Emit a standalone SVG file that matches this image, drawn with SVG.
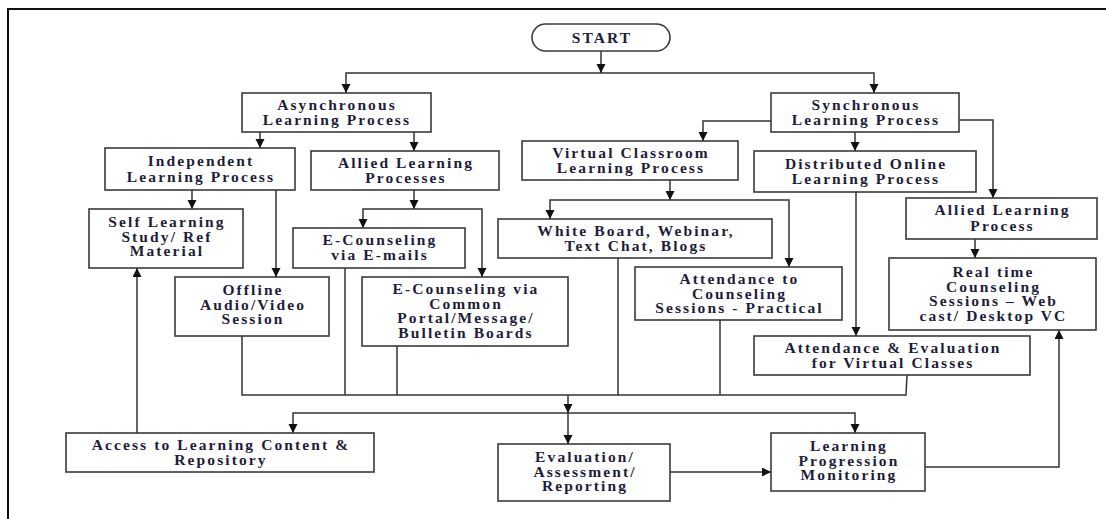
<svg xmlns="http://www.w3.org/2000/svg" width="1106" height="519" viewBox="0 0 1106 519">
  <style>
    .box { fill: #ffffff; stroke: #3a3a3a; stroke-width: 1.6; }
    .lbl { font-family: "Liberation Serif", "Times New Roman", serif; font-size: 15.5px; font-weight: bold; letter-spacing: 2.1px; fill: #1d1d3a; text-anchor: middle; }
    .wire { fill: none; stroke: #333333; stroke-width: 1.5; }
    .arr { marker-end: url(#head); }
  </style>
  <defs>
    <marker id="head" markerUnits="userSpaceOnUse" markerWidth="10" markerHeight="10" refX="9" refY="4.5" orient="auto">
      <path d="M0,0 L9,4.5 L0,9 z" fill="#111111"/>
    </marker>
  </defs>

  <rect width="1106" height="519" fill="#ffffff"/>
  <!-- page frame (left and top edges) -->
  <path d="M8 519 V9 H1106" fill="none" stroke="#111111" stroke-width="2"/>

  <g id="connectors">
    <path class="wire arr" d="M601 51 V73"/>
    <path class="wire arr" d="M601 73 H346 V93"/>
    <path class="wire arr" d="M601 73 H874 V93"/>
    <path class="wire arr" d="M260 132 V148"/>
    <path class="wire arr" d="M414 132 V151"/>
    <path class="wire arr" d="M192 190 V209"/>
    <path class="wire arr" d="M276 190 V277"/>
    <path class="wire arr" d="M414 190 V209"/>
    <path class="wire arr" d="M414 209 H363 V228"/>
    <path class="wire arr" d="M414 209 H482 V277"/>
    <path class="wire arr" d="M771 121 H703 V141"/>
    <path class="wire arr" d="M855 132 V151"/>
    <path class="wire arr" d="M959 120 H993 V198"/>
    <path class="wire arr" d="M975 239 V258"/>
    <path class="wire arr" d="M670 180 V200"/>
    <path class="wire arr" d="M670 200 H550 V219"/>
    <path class="wire arr" d="M670 200 H789 V267"/>
    <path class="wire arr" d="M856 192 V336"/>
    <path class="wire" d="M242 336 V395 H906 L907 375"/>
    <path class="wire" d="M345 268 V395"/>
    <path class="wire" d="M397 346 V395"/>
    <path class="wire" d="M618 258 V395"/>
    <path class="wire" d="M720 320 V395"/>
    <path class="wire arr" d="M568 395 V413"/>
    <path class="wire arr" d="M568 413 H293 V433"/>
    <path class="wire arr" d="M568 413 H855 V433"/>
    <path class="wire arr" d="M568 413 V444"/>
    <path class="wire arr" d="M137 433 V268"/>
    <path class="wire arr" d="M670 472 H771"/>
    <path class="wire arr" d="M925 467 H1059 V330"/>
  </g>

  <g id="start">
    <rect class="box" x="532" y="24" width="138" height="27" rx="13.5"/>
    <text class="lbl" x="602" y="43">START</text>
  </g>
  <g id="async">
    <rect class="box" x="242" y="93" width="189" height="39"/>
    <text class="lbl" x="337" y="109.5">Asynchronous</text>
    <text class="lbl" x="337" y="125">Learning Process</text>
  </g>
  <g id="sync">
    <rect class="box" x="771" y="93" width="188" height="39"/>
    <text class="lbl" x="866" y="109.5">Synchronous</text>
    <text class="lbl" x="866" y="125">Learning Process</text>
  </g>
  <g id="independent">
    <rect class="box" x="105" y="148" width="190" height="42"/>
    <text class="lbl" x="201" y="166">Independent</text>
    <text class="lbl" x="201" y="181.5">Learning Process</text>
  </g>
  <g id="allied-async">
    <rect class="box" x="311" y="151" width="188" height="39"/>
    <text class="lbl" x="406" y="167.5">Allied Learning</text>
    <text class="lbl" x="406" y="183">Processes</text>
  </g>
  <g id="self-learning">
    <rect class="box" x="89" y="209" width="154" height="59"/>
    <text class="lbl" x="167" y="227">Self Learning</text>
    <text class="lbl" x="167" y="241.5">Study/ Ref</text>
    <text class="lbl" x="167" y="256">Material</text>
  </g>
  <g id="offline">
    <rect class="box" x="175" y="277" width="154" height="59"/>
    <text class="lbl" x="253" y="295">Offline</text>
    <text class="lbl" x="253" y="309.5">Audio/Video</text>
    <text class="lbl" x="253" y="324">Session</text>
  </g>
  <g id="ecounsel-email">
    <rect class="box" x="293" y="228" width="172" height="40"/>
    <text class="lbl" x="380" y="245">E-Counseling</text>
    <text class="lbl" x="380" y="260">via E-mails</text>
  </g>
  <g id="ecounsel-portal">
    <rect class="box" x="362" y="277" width="206" height="69"/>
    <text class="lbl" x="466" y="294">E-Counseling via</text>
    <text class="lbl" x="466" y="308.5">Common</text>
    <text class="lbl" x="466" y="323">Portal/Message/</text>
    <text class="lbl" x="466" y="337.5">Bulletin Boards</text>
  </g>
  <g id="virtual-classroom">
    <rect class="box" x="522" y="141" width="216" height="39"/>
    <text class="lbl" x="631" y="157.5">Virtual Classroom</text>
    <text class="lbl" x="631" y="173">Learning Process</text>
  </g>
  <g id="whiteboard">
    <rect class="box" x="498" y="219" width="274" height="39"/>
    <text class="lbl" x="636" y="235.5">White Board, Webinar,</text>
    <text class="lbl" x="636" y="251">Text Chat, Blogs</text>
  </g>
  <g id="attendance-practical">
    <rect class="box" x="635" y="267" width="207" height="53"/>
    <text class="lbl" x="739.5" y="284">Attendance to</text>
    <text class="lbl" x="739.5" y="298.5">Counseling</text>
    <text class="lbl" x="739.5" y="313">Sessions - Practical</text>
  </g>
  <g id="distributed">
    <rect class="box" x="754" y="151" width="222" height="41"/>
    <text class="lbl" x="866" y="168.5">Distributed Online</text>
    <text class="lbl" x="866" y="184">Learning Process</text>
  </g>
  <g id="allied-sync">
    <rect class="box" x="906" y="198" width="191" height="41"/>
    <text class="lbl" x="1002.5" y="215">Allied Learning</text>
    <text class="lbl" x="1002.5" y="230.5">Process</text>
  </g>
  <g id="realtime">
    <rect class="box" x="889" y="258" width="207" height="72"/>
    <text class="lbl" x="993.5" y="277">Real time</text>
    <text class="lbl" x="993.5" y="291.5">Counseling</text>
    <text class="lbl" x="993.5" y="306">Sessions – Web</text>
    <text class="lbl" x="993.5" y="320.5">cast/ Desktop VC</text>
  </g>
  <g id="attendance-eval">
    <rect class="box" x="754" y="336" width="276" height="39"/>
    <text class="lbl" x="893" y="352.5">Attendance &amp; Evaluation</text>
    <text class="lbl" x="893" y="368">for Virtual Classes</text>
  </g>
  <g id="access">
    <rect class="box" x="66" y="433" width="308" height="39"/>
    <text class="lbl" x="221" y="449.5">Access to Learning Content &amp;</text>
    <text class="lbl" x="221" y="465">Repository</text>
  </g>
  <g id="evaluation">
    <rect class="box" x="498" y="444" width="172" height="57"/>
    <text class="lbl" x="585" y="462">Evaluation/</text>
    <text class="lbl" x="585" y="476.5">Assessment/</text>
    <text class="lbl" x="585" y="491">Reporting</text>
  </g>
  <g id="progression">
    <rect class="box" x="771" y="433" width="154" height="58"/>
    <text class="lbl" x="849" y="451">Learning</text>
    <text class="lbl" x="849" y="465.5">Progression</text>
    <text class="lbl" x="849" y="480">Monitoring</text>
  </g>
</svg>
